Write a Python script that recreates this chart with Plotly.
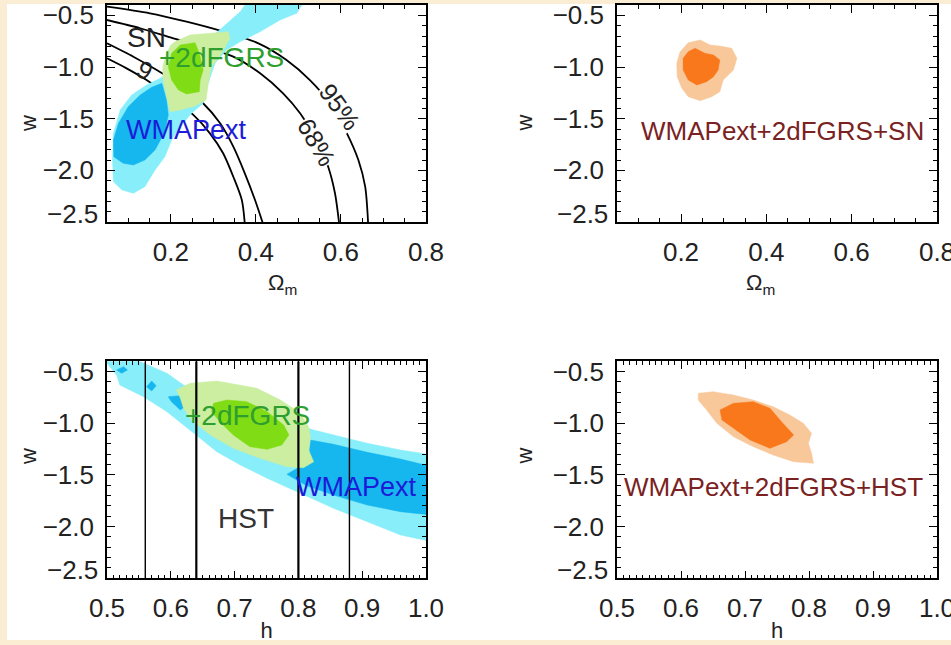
import plotly.graph_objects as go

# ---------------- data ----------------
# Panel 1: SN contour lines in (Omega_m, w)
sn_c1_x = [0.05, 0.151, 0.237, 0.316, 0.406, 0.472, 0.527, 0.574, 0.614, 0.641, 0.657, 0.664]
sn_c1_y = [-0.416, -0.480, -0.562, -0.649, -0.771, -0.932, -1.126, -1.351, -1.642, -1.900, -2.158, -2.52]
sn_c2_x = [0.05, 0.128, 0.206, 0.276, 0.347, 0.410, 0.464, 0.504, 0.543, 0.570, 0.586, 0.596]
sn_c2_y = [-0.545, -0.625, -0.722, -0.804, -0.900, -1.061, -1.255, -1.448, -1.706, -1.965, -2.222, -2.52]
sn_c3_x = [0.05, 0.112, 0.167, 0.222, 0.276, 0.316, 0.347, 0.374, 0.398, 0.417]
sn_c3_y = [-0.771, -0.900, -1.029, -1.174, -1.351, -1.545, -1.771, -2.029, -2.287, -2.52]
sn_c4_x = [0.05, 0.096, 0.143, 0.198, 0.253, 0.292, 0.323, 0.347, 0.367, 0.374]
sn_c4_y = [-0.916, -1.013, -1.126, -1.287, -1.464, -1.642, -1.835, -2.062, -2.287, -2.52]

# Panel 1: WMAPext 95% (light cyan) and 68% (blue)
wm95_om_x = [0.378, 0.512, 0.496, 0.457, 0.410, 0.363, 0.331, 0.304, 0.288, 0.276, 0.249, 0.222, 0.202,
             0.186, 0.163, 0.139, 0.112, 0.085, 0.065, 0.063, 0.065, 0.081, 0.108, 0.143, 0.175, 0.214,
             0.253, 0.292, 0.331, 0.363]
wm95_om_y = [-0.38, -0.38, -0.480, -0.545, -0.658, -0.755, -0.835, -0.964, -1.158, -1.351, -1.448, -1.578,
             -1.706, -1.868, -1.997, -2.158, -2.222, -2.190, -2.110, -1.900, -1.642, -1.416, -1.271, -1.174,
             -1.109, -0.997, -0.867, -0.722, -0.577, -0.465]
wm68_om_x = [0.179, 0.190, 0.194, 0.186, 0.163, 0.139, 0.112, 0.088, 0.066, 0.065, 0.077, 0.100, 0.128, 0.155]
wm68_om_y = [-1.158, -1.319, -1.464, -1.626, -1.803, -1.900, -1.948, -1.932, -1.868, -1.706, -1.545, -1.384,
             -1.271, -1.196]
# Panel 1: +2dFGRS 95% (light green) and 68% (green)
gr95_om_x = [0.210, 0.245, 0.292, 0.335, 0.339, 0.320, 0.296, 0.288, 0.283, 0.257, 0.222, 0.198, 0.190,
             0.182, 0.181, 0.190, 0.200]
gr95_om_y = [-0.755, -0.690, -0.674, -0.658, -0.722, -0.867, -0.997, -1.158, -1.319, -1.377, -1.416, -1.433,
             -1.287, -1.126, -0.997, -0.867, -0.787]
gr68_om_x = [0.222, 0.257, 0.267, 0.276, 0.269, 0.267, 0.237, 0.218, 0.202, 0.194, 0.202]
gr68_om_y = [-0.787, -0.765, -0.867, -1.029, -1.126, -1.239, -1.261, -1.223, -1.126, -0.997, -0.867]

# Panel 2: WMAPext+2dFGRS+SN
sn95_x = [0.217, 0.245, 0.268, 0.291, 0.319, 0.331, 0.323, 0.299, 0.291, 0.272, 0.245, 0.217, 0.202,
          0.191, 0.190, 0.198]
sn95_y = [-0.765, -0.739, -0.787, -0.797, -0.819, -0.916, -1.029, -1.126, -1.239, -1.287, -1.326, -1.287,
          -1.206, -1.094, -0.964, -0.852]
sn68_x = [0.233, 0.256, 0.276, 0.291, 0.287, 0.276, 0.260, 0.237, 0.217, 0.205, 0.205, 0.217]
sn68_y = [-0.819, -0.867, -0.884, -0.932, -1.029, -1.094, -1.142, -1.174, -1.126, -1.029, -0.916, -0.852]

# Panel 3: (h, w)
wm95_h_x = [0.5, 0.547, 0.594, 0.620, 0.672, 0.740, 0.824, 0.855, 0.908, 0.960, 1.01, 1.01, 0.960, 0.908,
            0.855, 0.803, 0.751, 0.709, 0.672, 0.646, 0.620, 0.594, 0.557, 0.520, 0.515, 0.5]
wm95_h_y = [-0.39, -0.39, -0.516, -0.629, -0.758, -0.903, -1.065, -1.113, -1.194, -1.258, -1.307, -2.146,
            -2.081, -1.952, -1.823, -1.677, -1.532, -1.403, -1.275, -1.145, -1.016, -0.888, -0.742, -0.629,
            -0.533, -0.419]
wm68_h_x = [0.819, 0.855, 0.908, 0.960, 1.01, 1.01, 0.960, 0.908, 0.855, 0.813, 0.782, 0.798, 0.816]
wm68_h_y = [-1.162, -1.203, -1.281, -1.346, -1.420, -1.888, -1.855, -1.791, -1.694, -1.604, -1.494, -1.436,
            -1.372]
wm68_h_s1_x = [0.515, 0.526, 0.532, 0.523]
wm68_h_s1_y = [-0.484, -0.452, -0.484, -0.516]
wm68_h_s2_x = [0.562, 0.570, 0.577, 0.570]
wm68_h_s2_y = [-0.646, -0.591, -0.636, -0.687]
wm68_h_s3_x = [0.596, 0.615, 0.625, 0.615, 0.601]
wm68_h_s3_y = [-0.742, -0.733, -0.823, -0.871, -0.791]
gr95_h_x = [0.609, 0.630, 0.672, 0.709, 0.735, 0.772, 0.803, 0.816, 0.819, 0.816, 0.824, 0.808, 0.782,
            0.740, 0.698, 0.662, 0.635, 0.620, 0.615]
gr95_h_y = [-0.678, -0.613, -0.591, -0.629, -0.661, -0.775, -0.903, -1.033, -1.145, -1.258, -1.372, -1.430,
            -1.420, -1.339, -1.242, -1.113, -0.984, -0.855, -0.758]
gr68_h_x = [0.667, 0.688, 0.719, 0.751, 0.777, 0.785, 0.774, 0.751, 0.724, 0.698, 0.677, 0.664]
gr68_h_y = [-0.807, -0.775, -0.791, -0.888, -1.016, -1.113, -1.210, -1.252, -1.226, -1.113, -0.984, -0.888]
hst_lines = [0.56, 0.64, 0.80, 0.88]
hst_widths = [1.4, 2.2, 2.2, 1.4]

# Panel 4: WMAPext+2dFGRS+HST
hs95_x = [0.627, 0.650, 0.682, 0.713, 0.744, 0.770, 0.791, 0.804, 0.799, 0.804, 0.807, 0.776, 0.744,
          0.713, 0.682, 0.656, 0.640, 0.627]
hs95_y = [-0.710, -0.694, -0.726, -0.775, -0.839, -0.920, -1.000, -1.097, -1.194, -1.290, -1.387, -1.372,
          -1.307, -1.226, -1.130, -1.000, -0.871, -0.775]
hs68_x = [0.661, 0.682, 0.713, 0.739, 0.757, 0.776, 0.765, 0.739, 0.708, 0.682, 0.664]
hs68_y = [-0.871, -0.807, -0.791, -0.855, -0.984, -1.113, -1.178, -1.242, -1.162, -1.049, -0.968]

# ticks
om_ticks = [0.2, 0.4, 0.6, 0.8]
om_labels = ["0.2", "0.4", "0.6", "0.8"]
h_ticks = [0.5, 0.6, 0.7, 0.8, 0.9, 1.0]
h_labels = ["0.5", "0.6", "0.7", "0.8", "0.9", "1.0"]
w_ticks = [-2.0, -1.5, -1.0, -0.5]
w_labels = ["\u22122.0", "\u22121.5", "\u22121.0", "\u22120.5"]
w_bottom_label = "\u22122.5"

# ---------------- colours ----------------
C_CYAN = "#88EEFA"
C_BLUE = "#16B6EE"
C_LGREEN = "#CBEEA0"
C_GREEN = "#80DC14"
C_LORANGE = "#F8C89A"
C_ORANGE = "#F9781C"
T_GREEN = "#2E9E2E"
T_BLUE = "#1C1CD8"
T_RED = "#7A2222"
FONT = "Liberation Sans, Arial, Helvetica, sans-serif"
TICK_SIZE = 26

W, H = 951, 645
fig = go.Figure()


def poly(x, y, color, n):
    fig.add_trace(go.Scatter(x=list(x) + [x[0]], y=list(y) + [y[0]], fill="toself", fillcolor=color,
                             mode="lines", line=dict(width=0.5, color=color),
                             xaxis="x" + n, yaxis="y" + n, hoverinfo="skip", showlegend=False))


def line(x, y, n, width=1.8):
    fig.add_trace(go.Scatter(x=x, y=y, mode="lines", line=dict(color="black", width=width, shape="spline",
                                                                 smoothing=0.8),
                             xaxis="x" + n, yaxis="y" + n, hoverinfo="skip", showlegend=False))


# panel 1
for cx, cy in [(sn_c1_x, sn_c1_y), (sn_c2_x, sn_c2_y), (sn_c3_x, sn_c3_y), (sn_c4_x, sn_c4_y)]:
    line(cx, cy, "")
poly(wm95_om_x, wm95_om_y, C_CYAN, "")
poly(wm68_om_x, wm68_om_y, C_BLUE, "")
poly(gr95_om_x, gr95_om_y, C_LGREEN, "")
poly(gr68_om_x, gr68_om_y, C_GREEN, "")
# panel 2
poly(sn95_x, sn95_y, C_LORANGE, "2")
poly(sn68_x, sn68_y, C_ORANGE, "2")
# panel 3
poly(wm95_h_x, wm95_h_y, C_CYAN, "3")
poly(wm68_h_x, wm68_h_y, C_BLUE, "3")
poly(wm68_h_s1_x, wm68_h_s1_y, C_BLUE, "3")
poly(wm68_h_s2_x, wm68_h_s2_y, C_BLUE, "3")
poly(wm68_h_s3_x, wm68_h_s3_y, C_BLUE, "3")
poly(gr95_h_x, gr95_h_y, C_LGREEN, "3")
poly(gr68_h_x, gr68_h_y, C_GREEN, "3")
for hv, lw in zip(hst_lines, hst_widths):
    fig.add_trace(go.Scatter(x=[hv, hv], y=[-2.5, -0.4], mode="lines", line=dict(color="black", width=lw),
                             xaxis="x3", yaxis="y3", hoverinfo="skip", showlegend=False))
# panel 4
poly(hs95_x, hs95_y, C_LORANGE, "4")
poly(hs68_x, hs68_y, C_ORANGE, "4")


def px_x(p):
    return p / W


def px_y(p):
    return 1 - p / H


ydom_top = [px_y(222), px_y(5)]
ydom_bot = [px_y(578.3), px_y(361.3)]
xdom_l = [px_x(107), px_x(426)]
xdom_r = [px_x(617), px_x(937)]


def xax(dom, rng, tv, tt, mdt, anchor, title=None):
    d = dict(domain=dom, range=rng, tickvals=tv, ticktext=tt, ticks="inside", ticklen=8, tickwidth=1.3,
             tickcolor="black", showline=True, linecolor="black", linewidth=1.6, mirror="ticks",
             showgrid=False, zeroline=False, anchor=anchor, ticklabelstandoff=6, automargin=False,
             ticklabeloverflow="allow",
             minor=dict(dtick=mdt, tick0=0, ticks="inside", ticklen=4, tickcolor="black", tickwidth=1),
             tickfont=dict(size=TICK_SIZE, color="#222", family=FONT), fixedrange=True)
    if title:
        d["title"] = dict(text=title, standoff=0, font=dict(size=22, color="#222", family=FONT))
    return d


def yax(dom, anchor):
    return dict(domain=dom, range=[-2.5, -0.4], tickvals=w_ticks, ticktext=w_labels, ticks="inside",
                ticklen=8, tickwidth=1.3, tickcolor="black", showline=True, linecolor="black", linewidth=1.6,
                mirror="ticks", showgrid=False, zeroline=False, anchor=anchor, ticklabelstandoff=6,
                automargin=False, ticklabeloverflow="allow",
                minor=dict(dtick=0.1, tick0=0, ticks="inside", ticklen=4, tickcolor="black", tickwidth=1),
                tickfont=dict(size=TICK_SIZE, color="#222", family=FONT), fixedrange=True)


annotations = []


def ann(text, x, y, n, color="black", size=27, angle=0, bg=None):
    d = dict(text=text, x=x, y=y, xref="x" + n, yref="y" + n, showarrow=False, textangle=angle,
             font=dict(size=size, color=color, family=FONT))
    if bg:
        d.update(bgcolor=bg, borderpad=0)
    annotations.append(d)


def pann(text, px, py, size=22, angle=0):
    annotations.append(dict(text=text, x=px_x(px), y=px_y(py), xref="paper", yref="paper", showarrow=False,
                            textangle=angle, font=dict(size=size, color="#222", family=FONT)))


ann("SN", 0.142, -0.71, "", color="#222", size=28)
ann("9", 0.139, -1.029, "", color="#222", size=25, angle=28)
ann("+2dFGRS", 0.320, -0.908, "", color=T_GREEN, size=28)
ann("WMAPext", 0.237, -1.610, "", color=T_BLUE)
ann("95%", 0.598, -1.384, "", color="#222", size=25, angle=54, bg="white")
ann("68%", 0.543, -1.723, "", color="#222", size=25, angle=60, bg="white")
ann("WMAPext+2dFGRS+SN", 0.437, -1.619, "2", color=T_RED, size=26)
ann("+2dFGRS", 0.720, -0.920, "3", color=T_GREEN, size=28)
ann("WMAPext", 0.891, -1.613, "3", color=T_BLUE)
ann("HST", 0.718, -1.919, "3", color="#333", size=28)
ann("WMAPext+2dFGRS+HST", 0.745, -1.619, "4", color=T_RED, size=26)

# the lowest y label sits a little above the bottom edge
for n in ["", "2", "3", "4"]:
    annotations.append(dict(text=w_bottom_label, x=0, y=-2.5, xref="x" + n + " domain", yref="y" + n,
                            xanchor="right", yanchor="middle", xshift=-7, yshift=8, showarrow=False,
                            font=dict(size=TICK_SIZE, color="#222", family=FONT)))

pann("w", 14, 113, angle=-90)
pann("w", 524, 113, angle=-90)
pann("w", 14, 467, angle=-90)
pann("w", 524, 467, angle=-90)
pann("\u03a9<sub>m</sub>", 266, 284)
pann("\u03a9<sub>m</sub>", 777, 284)

fig.update_layout(
    width=W, height=H, margin=dict(l=0, r=0, t=0, b=0, autoexpand=False),
    paper_bgcolor="#FBEDD3", plot_bgcolor="white",
    xaxis=xax(xdom_l, [0.05, 0.8], om_ticks, om_labels, 0.05, "y"),
    yaxis=yax(ydom_top, "x"),
    xaxis2=xax(xdom_r, [0.05, 0.8], om_ticks, om_labels, 0.05, "y2"),
    yaxis2=yax(ydom_top, "x2"),
    xaxis3=xax(xdom_l, [0.5, 1.0], h_ticks, h_labels, 0.01, "y3", title="h"),
    yaxis3=yax(ydom_bot, "x3"),
    xaxis4=xax(xdom_r, [0.5, 1.0], h_ticks, h_labels, 0.01, "y4", title="h"),
    yaxis4=yax(ydom_bot, "x4"),
    annotations=annotations,
    shapes=[dict(type="rect", xref="paper", yref="paper", x0=7 / W, x1=1.0, y0=1 - 640 / H, y1=1 - 4 / H,
                 fillcolor="white", line=dict(width=0), layer="below")],
    showlegend=False,
)

fig.write_html("out.html")
